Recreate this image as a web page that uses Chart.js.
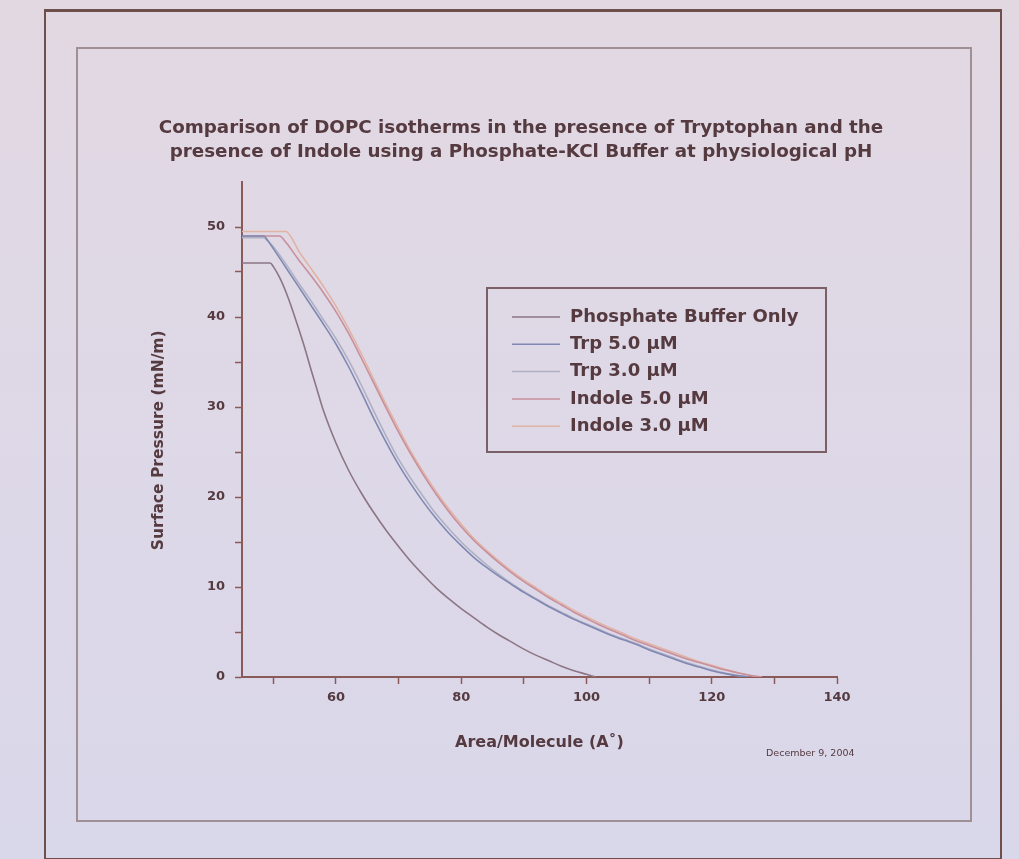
<!DOCTYPE html>
<html>
<head>
<meta charset="utf-8">
<script src="https://cdn.jsdelivr.net/npm/chart.js"></script>
<style>
    html, body { margin: 0; padding: 0; }
    body {
        width: 1019px;
        height: 859px;
        overflow: hidden;
        position: relative;
        background: linear-gradient(180deg, #e2d8e2 0%, #ddd8e8 60%, #d9d7ea 100%);
    }
    .outer {
        position: absolute;
        left: 44px; top: 9px;
        width: 954px; height: 846px;
        border: 2px solid #6e4f4c;
        border-top-width: 3px;
    }
    .inner {
        position: absolute;
        left: 76px; top: 47px;
        width: 892px; height: 771px;
        border: 2px solid #a08f93;
    }
    #wrap {
        position: absolute;
        left: 77px; top: 48px;
        width: 894px; height: 772px;
        filter: blur(0.4px);
    }
</style>
</head>
<body>
<div class="outer"></div>
<div class="inner"></div>
<div id="wrap"><canvas id="isoChart" width="894" height="772"></canvas></div>
<script>
// area per molecule (A^2) and surface pressure (mN/m)
var areaBuffer = [45, 49.5, 50, 51, 52, 53, 54, 55, 56, 57, 58, 60, 62, 64, 66, 68, 70, 72, 74, 76, 78, 80, 82, 84, 86, 88, 90, 92, 94, 96, 98, 100, 101.5];
var pressureBuffer = [46.0, 46.0, 45.6, 44.4, 42.8, 40.9, 38.8, 36.6, 34.2, 31.9, 29.6, 26.0, 23.0, 20.5, 18.3, 16.3, 14.5, 12.8, 11.3, 9.9, 8.7, 7.6, 6.6, 5.6, 4.7, 3.9, 3.1, 2.4, 1.8, 1.2, 0.7, 0.3, 0];

var areaTrp = [45, 48.5, 49, 50, 52, 54, 56, 58, 60, 62, 64, 66, 68, 70, 72, 74, 76, 78, 80, 82, 84, 86, 88, 90, 92, 94, 96, 98, 100, 102, 104, 106, 108, 110, 112, 114, 116, 118, 120, 122, 124, 126];
var pressureTrp5 = [49.0, 49.0, 48.6, 47.6, 45.5, 43.4, 41.3, 39.2, 37.0, 34.5, 31.7, 28.8, 26.1, 23.6, 21.4, 19.4, 17.6, 16.0, 14.6, 13.3, 12.2, 11.2, 10.3, 9.4, 8.6, 7.8, 7.1, 6.4, 5.8, 5.2, 4.6, 4.1, 3.6, 3.0, 2.5, 2.0, 1.5, 1.1, 0.7, 0.4, 0.15, 0];
var pressureTrp3 = [48.8, 48.8, 48.5, 47.8, 45.9, 43.8, 41.8, 39.7, 37.6, 35.2, 32.5, 29.6, 26.8, 24.2, 22.0, 20.0, 18.1, 16.5, 15.0, 13.7, 12.5, 11.4, 10.4, 9.5, 8.7, 7.9, 7.2, 6.5, 5.9, 5.3, 4.7, 4.2, 3.7, 3.1, 2.6, 2.1, 1.6, 1.2, 0.8, 0.45, 0.2, 0];

var areaIndole5 = [45, 51, 52, 54, 56, 58, 60, 62, 64, 66, 68, 70, 72, 74, 76, 78, 80, 82, 84, 86, 88, 90, 92, 94, 96, 98, 100, 102, 104, 106, 108, 110, 112, 114, 116, 118, 120, 122, 124, 126, 128];
var pressureIndole5 = [49.0, 49.0, 48.3, 46.4, 44.6, 42.7, 40.6, 38.2, 35.5, 32.7, 29.9, 27.2, 24.7, 22.4, 20.3, 18.4, 16.7, 15.2, 13.9, 12.7, 11.6, 10.6, 9.7, 8.8, 8.0, 7.2, 6.5, 5.8, 5.2, 4.6, 4.0, 3.5, 3.0, 2.5, 2.0, 1.6, 1.2, 0.8, 0.5, 0.2, 0];
var areaIndole3 = [45, 52, 53, 54, 56, 58, 60, 62, 64, 66, 68, 70, 72, 74, 76, 78, 80, 82, 84, 86, 88, 90, 92, 94, 96, 98, 100, 102, 104, 106, 108, 110, 112, 114, 116, 118, 120, 122, 124, 126, 128];
var pressureIndole3 = [49.5, 49.5, 48.7, 47.4, 45.4, 43.4, 41.2, 38.7, 36.0, 33.1, 30.3, 27.6, 25.0, 22.7, 20.6, 18.7, 17.0, 15.4, 14.1, 12.9, 11.8, 10.8, 9.9, 9.0, 8.2, 7.4, 6.7, 6.0, 5.4, 4.8, 4.2, 3.7, 3.2, 2.7, 2.2, 1.7, 1.3, 0.9, 0.5, 0.2, 0];

var seriesLabels = ["Phosphate Buffer Only", "Trp 5.0 \u00b5M", "Trp 3.0 \u00b5M", "Indole 5.0 \u00b5M", "Indole 3.0 \u00b5M"];
var titleLines = [
    "Comparison of DOPC isotherms in the presence of Tryptophan and the",
    "presence of Indole using a Phosphate-KCl Buffer at physiological pH",
];
var xTicks = [50, 60, 70, 80, 90, 100, 110, 120, 130, 140];
var yTicks = [0, 5, 10, 15, 20, 25, 30, 35, 40, 45, 50];

var fontFamily = "DejaVu Sans";
var textColor = "#553a40";
var axisColor = "#8a5a58";

function toPoints(xs, ys) {
    return xs.map(function (x, i) {
        return { x: x, y: ys[i] };
    });
}

// title, boxed legend and date stamp, placed like the original figure
var boxLegend = {
    id: "boxLegend",
    afterDraw: function (chart) {
        let ctx = chart.ctx;
        ctx.save();
        ctx.fillStyle = textColor;
        ctx.textBaseline = "middle";

        ctx.textAlign = "center";
        ctx.font = "bold 18.3px " + fontFamily;
        titleLines.forEach(function (line, i) {
            ctx.fillText(line, 444, 80 + i * 24);
        });

        ctx.textAlign = "left";
        ctx.strokeStyle = "#7a6066";
        ctx.lineWidth = 2;
        ctx.strokeRect(410, 240, 339, 164);
        ctx.font = "bold 18px " + fontFamily;
        chart.data.datasets.forEach(function (ds, i) {
            let y = 269 + i * 27.3;
            ctx.strokeStyle = ds.borderColor;
            ctx.lineWidth = 1.5;
            ctx.beginPath();
            ctx.moveTo(435, y);
            ctx.lineTo(483, y);
            ctx.stroke();
            ctx.fillText(ds.label, 493, y);
        });

        ctx.font = "9.5px " + fontFamily;
        ctx.fillText("December 9, 2004", 689, 706);
        ctx.restore();
    },
};

var config_line = {
    type: "line",
    data: {
        datasets: [
            { label: seriesLabels[0], data: toPoints(areaBuffer, pressureBuffer), borderColor: "#8c7684" },
            { label: seriesLabels[1], data: toPoints(areaTrp, pressureTrp5), borderColor: "#8088b2" },
            { label: seriesLabels[2], data: toPoints(areaTrp, pressureTrp3), borderColor: "#aeb0c4" },
            { label: seriesLabels[3], data: toPoints(areaIndole5, pressureIndole5), borderColor: "#c98f9c" },
            { label: seriesLabels[4], data: toPoints(areaIndole3, pressureIndole3), borderColor: "#e0b3a2" },
        ],
    },
    options: {
        responsive: false,
        animation: false,
        borderWidth: 1.6,
        pointRadius: 0,
        cubicInterpolationMode: "monotone",
        layout: {
            padding: { left: 60, right: 134, top: 134, bottom: 68 },
        },
        scales: {
            x: {
                type: "linear",
                min: 45,
                max: 140,
                afterBuildTicks: function (axis) {
                    axis.ticks = xTicks.map(function (v) { return { value: v }; });
                },
                afterFit: function (scale) {
                    scale.height = 75;
                },
                border: { color: axisColor, width: 2 },
                grid: {
                    drawOnChartArea: false,
                    tickLength: 7,
                    tickColor: axisColor,
                    tickWidth: 1.5,
                },
                ticks: {
                    padding: 6,
                    color: textColor,
                    maxRotation: 0,
                    font: { family: fontFamily, size: 13, weight: "bold" },
                    callback: function (v) {
                        return v % 20 === 0 ? v : "";
                    },
                },
                title: {
                    display: true,
                    text: "Area/Molecule (A\u02da)",
                    color: textColor,
                    padding: 0,
                    font: { family: fontFamily, size: 16, weight: "bold" },
                },
            },
            y: {
                min: 0,
                max: 55,
                afterBuildTicks: function (axis) {
                    axis.ticks = yTicks.map(function (v) { return { value: v }; });
                },
                afterFit: function (scale) {
                    scale.width = 105;
                },
                border: { color: axisColor, width: 2 },
                grid: {
                    drawOnChartArea: false,
                    tickLength: 7,
                    tickColor: axisColor,
                    tickWidth: 1.5,
                },
                ticks: {
                    padding: 10,
                    color: textColor,
                    font: { family: fontFamily, size: 13, weight: "bold" },
                    callback: function (v) {
                        return v % 10 === 0 ? v : "";
                    },
                },
                title: {
                    display: true,
                    text: "Surface Pressure (mN/m)    ",
                    color: textColor,
                    padding: { top: 13, bottom: 0 },
                    font: { family: fontFamily, size: 15.5, weight: "bold" },
                },
            },
        },
        plugins: {
            legend: { display: false },
            tooltip: { enabled: false },
            title: { display: false },
        },
    },
    plugins: [boxLegend],
};

var isoChart = new Chart("isoChart", config_line);
</script>
</body>
</html>
